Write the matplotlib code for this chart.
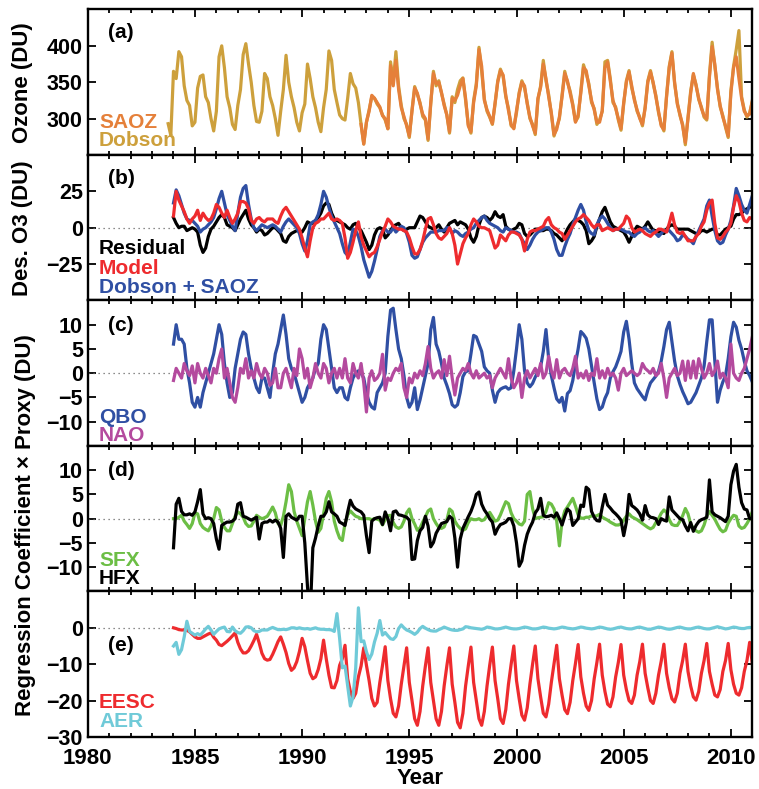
import matplotlib

matplotlib.use("Agg")
import matplotlib.pyplot as plt
import numpy as np
from matplotlib.ticker import MultipleLocator

plt.rcParams["font.family"] = ["Liberation Sans", "DejaVu Sans"]
plt.rcParams["font.weight"] = "bold"
plt.rcParams["axes.labelweight"] = "bold"

# ============================================================================
# Data, 8 samples per year (rows = one year)
# ============================================================================

STEP = 1 / 8

# (a) total ozone, Dobson starts 1983.75, SAOZ starts 1992.75
DOBSON_START = 1983.75
dobson = [
    293, 277,
    365, 355, 392, 385, 345, 325, 318, 290,  # 1984
    295, 342, 358, 360, 330, 322, 300, 283,  # 1985
    310, 385, 400, 370, 330, 315, 292, 285,  # 1986
    318, 340, 388, 403, 375, 350, 318, 296,  # 1987
    295, 310, 362, 355, 330, 318, 300, 277,  # 1988
    310, 340, 387, 350, 330, 315, 295, 283,  # 1989
    308, 320, 375, 355, 330, 315, 295, 282,  # 1990
    315, 340, 393, 380, 340, 322, 305, 300,  # 1991
    298, 328, 362, 348, 342, 322, 292, 265,  # 1992
    295, 312, 330, 328, 320, 315, 305, 298,  # 1993
    286, 378, 350, 392, 345, 318, 300, 292,  # 1994
    274, 312, 344, 333, 322, 303, 298, 270,  # 1995
    320, 365, 345, 352, 335, 320, 305, 280,  # 1996
    330, 322, 340, 352, 356, 325, 292, 280,  # 1997
    325, 348, 398, 365, 327, 310, 302, 292,  # 1998
    320, 352, 368, 358, 330, 314, 290, 287,  # 1999
    308, 336, 352, 342, 322, 300, 292, 278,  # 2000
    326, 345, 380, 352, 333, 306, 276, 288,  # 2001
    300, 333, 365, 350, 338, 320, 296, 302,  # 2002
    338, 374, 362, 348, 322, 314, 292, 298,  # 2003
    310, 378, 380, 355, 322, 316, 298, 284,  # 2004
    320, 352, 366, 342, 327, 310, 302, 290,  # 2005
    316, 352, 366, 348, 332, 308, 292, 283,  # 2006
    332, 372, 392, 348, 322, 304, 292, 264,  # 2007
    302, 338, 360, 347, 326, 316, 302, 298,  # 2008
    360, 405, 372, 342, 316, 304, 288, 274,  # 2009
    338, 372, 395, 421, 330, 312, 302, 308,  # 2010
    323,
]

SAOZ_START = 1992.75
saoz = [
    292, 265,
    295, 310, 332, 328, 322, 316, 304, 300,  # 1993
    286, 373, 345, 380, 340, 315, 303, 290,  # 1994
    276, 310, 342, 335, 320, 306, 300, 272,  # 1995
    322, 362, 348, 350, 336, 318, 305, 282,  # 1996
    328, 325, 332, 345, 355, 328, 290, 282,  # 1997
    322, 345, 395, 372, 325, 312, 303, 293,  # 1998
    322, 350, 366, 360, 332, 311, 292, 286,  # 1999
    311, 334, 350, 345, 320, 302, 290, 280,  # 2000
    328, 343, 375, 355, 330, 308, 278, 285,  # 2001
    302, 330, 362, 352, 335, 318, 295, 305,  # 2002
    335, 370, 366, 345, 325, 312, 295, 295,  # 2003
    311, 370, 378, 352, 325, 314, 300, 286,  # 2004
    322, 350, 364, 345, 325, 312, 300, 292,  # 2005
    314, 350, 364, 350, 330, 310, 290, 285,  # 2006
    330, 370, 390, 350, 320, 306, 290, 267,  # 2007
    300, 335, 362, 345, 328, 314, 304, 300,  # 2008
    357, 399, 375, 340, 318, 302, 290, 276,  # 2009
    335, 370, 385, 355, 328, 310, 304, 306,  # 2010
    325,
]

# (b)-(e) all start 1984.0
SERIES_START = 1984.0

residual = [
    7, 3, 0, 1, 1, -2, -1, 0,  # 1984
    -1, -3, -12, -17, -14, -6, -1, 1,  # 1985
    4, 7, 9, 7, 2, 1, 0, -2,  # 1986
    2, 6, 9, 12, 6, 2, 0, -3,  # 1987
    -1, -2, -5, -4, -2, 0, 0, -2,  # 1988
    -4, -9, -10, -6, -4, -3, -2, -2,  # 1989
    -3, 0, 4, 3, 3, 5, 7, 10,  # 1990
    15, 17, 16, 10, 6, 5, 4, 3,  # 1991
    2, 0, -1, 2, 3, 0, -2, -6,  # 1992
    -10, -15, -12, -5, -1, 0, -1, -7,  # 1993
    -5, -2, 1, 2, 3, 0, -2, -1,  # 1994
    0, 0, 0, 4, 8, 7, 4, 1,  # 1995
    0, -1, 0, 2, -1, -3, 0, 3,  # 1996
    4, 5, 2, 4, 3, 2, -1, -7,  # 1997
    -10, -6, 2, 7, 8, 7, 5, 7,  # 1998
    11, 8, 7, 9, 1, -1, -2, -1,  # 1999
    0, 3, 2, -4, -6, -5, -3, -1,  # 2000
    -1, -2, -2, -1, -1, -2, -4, -5,  # 2001
    -7, -9, -5, -1, 2, 4, 6, 5,  # 2002
    4, 2, -2, -11, -9, -6, 1, 6,  # 2003
    11, 14, 9, 4, 1, 0, -1, -2,  # 2004
    -3, -6, -10, -6, -2, 1, 0, -1,  # 2005
    1, 4, 1, -2, -2, -3, -3, -4,  # 2006
    -1, 1, 2, 1, -1, -1, -1, -1,  # 2007
    -1, -2, -3, -4, -4, -2, -2, -3,  # 2008
    -2, -1, -1, -5, -5, -3, -1, 0,  # 2009
    1, 6, 9, 9, 10, 12, 13, 14,  # 2010
    15,
]

model = [
    8, 25, 19, 15, 11, 6, 3, 6,  # 1984
    8, 12, 5, 10, 7, 5, 6, 10,  # 1985
    16, 14, 10, 7, 12, 7, 3, 6,  # 1986
    10, 18, 18, 17, 13, 5, 3, 6,  # 1987
    7, 5, 4, 6, 6, 6, 4, 3,  # 1988
    8, 12, 14, 11, 8, 5, 2, -1,  # 1989
    -7, -14, -20, -9, 0, 3, 4, 6,  # 1990
    6, 8, 10, 6, 5, 6, 5, 3,  # 1991
    -7, -21, -17, -10, -2, 4, -6, -12,  # 1992
    -16, -20, -18, -17, -13, -8, -3, 1,  # 1993
    6, 4, 1, 0, -1, -1, -2, -3,  # 1994
    -7, -13, -18, -18, -15, -9, -1, 6,  # 1995
    7, 2, -4, -7, -8, -6, -4, 0,  # 1996
    -4, -12, -25, -18, -11, -7, -4, 2,  # 1997
    6, 4, 1, 0, 0, -1, -2, -8,  # 1998
    -14, -12, -5, -7, -9, -5, -3, -3,  # 1999
    -4, -5, -8, -16, -8, -3, -2, -2,  # 2000
    -1, 0, 1, 5, 7, 2, 0, -1,  # 2001
    -3, -4, -8, -5, -2, 1, 4, 6,  # 2002
    7, 9, 7, 5, 2, 0, 2, 2,  # 2003
    -2, -1, 0, -1, -2, -1, -1, 1,  # 2004
    3, 8, 6, 0, -3, -2, -1, -2,  # 2005
    -4, -5, -6, -4, -3, -1, -1, -2,  # 2006
    -3, 3, 10, 2, -3, -4, -3, -6,  # 2007
    -9, -9, -9, -6, -4, 1, 4, 12,  # 2008
    17, 19, 3, -7, -8, -6, -3, -1,  # 2009
    3, 14, 22, 18, 10, 5, 4, 7,  # 2010
    6,
]

dobson_saoz = [
    17, 26, 22, 16, 10, 6, 5, 5,  # 1984
    3, 1, -3, -1, 0, 2, 4, 7,  # 1985
    13, 20, 25, 17, 9, 5, 1, -2,  # 1986
    10, 21, 27, 29, 16, 6, 0, -2,  # 1987
    0, 2, 1, 0, 1, 2, 1, -1,  # 1988
    -3, 1, 4, 6, 4, 2, 0, -4,  # 1989
    -11, -16, -9, 2, 4, 5, 9, 16,  # 1990
    25, 21, 14, 8, 4, 0, -4, -11,  # 1991
    -17, -19, -10, -1, -2, -6, -13, -22,  # 1992
    -28, -34, -30, -23, -15, -6, -2, -1,  # 1993
    -3, -3, 0, -3, -1, 1, 0, -4,  # 1994
    -10, -19, -21, -20, -15, -10, -7, -5,  # 1995
    -3, -3, -3, -2, -2, -2, 0, 0,  # 1996
    -4, -2, -3, -5, -6, -4, -3, -1,  # 1997
    0, 3, 5, 7, 8, 5, 3, 2,  # 1998
    1, 0, -2, -3, 0, -1, -2, -3,  # 1999
    -3, -4, -8, -11, -15, -12, -8, -5,  # 2000
    -3, -2, -1, 0, 0, -3, -8, -15,  # 2001
    -19, -19, -13, -8, -4, 2, 7, 12,  # 2002
    16, 12, 4, -2, -4, -5, 2, 6,  # 2003
    8, 6, 3, 0, -2, -1, -1, -1,  # 2004
    -2, -3, -3, -5, -6, -4, -3, -1,  # 2005
    0, -2, -3, -2, -4, -6, -4, -2,  # 2006
    -2, -2, -4, -6, -9, -8, -5, -6,  # 2007
    -8, -9, -11, -6, -2, 2, 6, 15,  # 2008
    19, 8, -2, -9, -11, -10, -5, -1,  # 2009
    5, 15, 27, 22, 16, 12, 10, 16,  # 2010
    22,
]

qbo = [
    6, 10, 7, 7, 6, 1, -2, -6,  # 1984
    -7, -5, -7, -4, -2, 0, 2, 4,  # 1985
    7, 10, 8, 2, -2, -5, -4, 1,  # 1986
    4, 7, 8.5, 8, 4, 1, -1, -3,  # 1987
    -4, -1, -1, -3, -5, 0, 4, 6,  # 1988
    9, 12, 8, 3, 1, 0, -2, -4,  # 1989
    -6, -5, -3, -2, -1, 1, 2, 7,  # 1990
    10, 9, 5, 1, -3, -4, -3, -3,  # 1991
    -5, -5.5, -3, -1, 0, 0.5, 0, -1,  # 1992
    -4, -6, -7, -7.4, -4, -3, -2, 0,  # 1993
    7.6, 13, 13.4, 9, 5, 3, -0.5, -5,  # 1994
    -7, -6, -3, -7.5, -5.5, -3, -0.5, 2,  # 1995
    9, 11.5, 6, 4.5, 2, -1, -2.5, -4.2,  # 1996
    -6.5, -7, -6.5, -4, -0.7, 0.3, 0.5, 4,  # 1997
    7.8, 7.5, 6, 4.5, 1.3, 0.5, 0, -3.5,  # 1998
    -6, -4, -3.3, -3, -2.8, -3.3, -3, 0.5,  # 1999
    5, 10, 7, 0.5, -2, -2.8, -2.1, -0.8,  # 2000
    0.3, 1.3, 4.5, 9, 3, -0.5, -3, -5.3,  # 2001
    -6, -5, -7.8, -4.2, -3.6, -1.5, 2, 5,  # 2002
    8.6, 8, 7.2, 5, 1.5, -2, -5.3, -7.5,  # 2003
    -7, -5.2, -4, -1, 0.3, 1.3, 2.8, 4.5,  # 2004
    8.5, 10.7, 7, 2, -2, -3.2, -4, -4.8,  # 2005
    -5.5, -3.5, -2, -1.3, -0.6, 0.4, 2.5, 5.5,  # 2006
    9, 10.5, 6.5, 2.5, -0.5, -2.3, -3.8, -5,  # 2007
    -6.3, -6, -5, -4, -2.5, -1, 1.5, 6.5,  # 2008
    11, 11, 2.5, -6, -3.5, -1.8, -0.5, 3,  # 2009
    7.5, 10.5, 9.5, 6.8, 5, 2.5, 0.5, -0.5,  # 2010
    -1.8,
]

nao = [
    -1.5, 1, 0, -1, 2, 0.5, -0.5, 1.5,  # 1984
    -2, 2, 0, -1, 1, -0.5, -2, 1,  # 1985
    0, 3, 5, -1, 1, -2, -5, -6,  # 1986
    -3, 1, 0, 3, -1, 0.5, -1, 2,  # 1987
    0, -1, 1, 0, -2.5, -2, 1, -3,  # 1988
    -3, 0, 1, -1, -3, 1, -0.5, 5,  # 1989
    3, -1, 1, -3, -1, 2, 0, -1,  # 1990
    2, 1, -2, 0, 1, -1, 1, -1,  # 1991
    3, -1, -2, 2, 0, -1, 2, -2,  # 1992
    -8, -1, 0.5, -1.5, -1, 0, 3.9, -3.5,  # 1993
    -1, -1.5, 0, 1, 0.5, 2, -3, -5,  # 1994
    -1, -2, 0, -1, 0.5, -0.5, 2, 5.5,  # 1995
    1, -1, 0, 0.5, -1, 2.8, -0.5, 3.5,  # 1996
    -1, -4.5, -1, 0, 1, 0.5, 2, 0,  # 1997
    -1, 0.5, -1, -0.5, 0, -1, -0.5, -3,  # 1998
    -1, 0, 1, 0, -1, 3, -1, -3,  # 1999
    -2, 0, -5, -1, 0.5, -1, 0, 1,  # 2000
    -0.5, 2, -1, 0, 3.5, 0.5, -1, 2.8,  # 2001
    -1, 0.5, 1, 0, -0.5, 1, 3.5, -1,  # 2002
    0, -1, 0.5, -1.5, 0, -0.5, 3, -1,  # 2003
    0.5, -1, 1, -0.5, 0, -1, -3.5, 0,  # 2004
    1, -0.5, 0, 0.5, 0, -0.5, 0, 2,  # 2005
    1, 0.5, 0, 1, -0.5, 0, 2, -1,  # 2006
    -5, -1, 0, 1, -0.5, 0, 2.5, -1.5,  # 2007
    2.5, -1, 2.5, -1, 3, 1, -1, 0,  # 2008
    2, -0.5, 0.5, 2.5, -1, 0, -1, -3,  # 2009
    6, 0, -1, -1.5, 0, 1, 3, 5,  # 2010
    7.5,
]

sfx = [
    0, 0, 0.3, 0.7, -0.5, -1.2, -2, -1,  # 1984
    1.2, 1, -1, -1.8, -2.2, -2.5, -1.5, 0,  # 1985
    2.3, 1.8, -0.5, -1.8, -2.5, -2.5, -1, 0.5,  # 1986
    1.4, 1, 0.3, -1, -1.6, -1.5, -0.5, 0.7,  # 1987
    0.3, 0, 0.2, 0.5, 1.4, 2.4, 1.2, -1,  # 1988
    -1.4, 0.5, 3.5, 7, 5.6, 1.5, -0.5, -2,  # 1989
    -3.5, 0, 3.5, 5.6, 2.8, -0.5, -2.8, -2,  # 1990
    1, 4.2, 5.6, 3.5, -0.5, -2.5, -4, -4.5,  # 1991
    -1, 0.8, 1.6, 1, 0.5, 0.3, 0, 0,  # 1992
    0, 0, -0.2, 0, -0.1, -0.3, -1.3, -0.2,  # 1993
    0.6, 0.7, -0.8, -1.7, -2, -1.7, -0.5, 1.2,  # 1994
    2, 0, -1.1, -2.4, -1.9, -0.7, 0.4, 1.6,  # 1995
    2, 0, -1, -1.8, -2, -1.7, -0.3, 2,  # 1996
    1.5, -0.5, -1.4, -2, -2.4, -2.1, -0.8, 0,  # 1997
    -0.2, -0.2, 0, -0.4, -0.2, 0.6, 1.3, 0.4,  # 1998
    -0.5, -0.3, 0.8, 2.2, 3.5, 3.1, 1.2, 0,  # 1999
    -0.5, -1.1, -1.3, -0.5, 5, 5.6, 2.1, 0,  # 2000
    0.2, 0.3, 0.4, 1.5, 3.3, 3, 2, -0.5,  # 2001
    -5.6, -0.5, 1.6, 2.4, 3.3, 4.2, 2.6, 0.8,  # 2002
    0.1, 0.1, 0.3, 0.3, 0.6, 0.5, 0.6, 0.9,  # 2003
    0.3, 0, -0.3, -0.7, -1, -1.3, -1.3, -1.1,  # 2004
    -0.3, 0.5, 1, 0.4, 0.1, -0.2, -0.6, -1,  # 2005
    -1.4, -1.8, -2.1, -1.8, -0.8, 0, 1.1, 1.8,  # 2006
    1.3, -0.2, -1.2, -1.4, -1.4, -0.5, 0.6, 2.1,  # 2007
    1, -1.1, -2, -2.5, -2.8, -2.5, -1.3, 0.5,  # 2008
    1.5, 0.7, -0.1, -1.2, -2.2, -2.7, -2.4, -0.9,  # 2009
    0, 0.7, 0.5, -1.5, -2, -1.8, -1, 0,  # 2010
    1.4,
]

hfx = [
    -6, 3, 4.2, 1.5, 0.8, 0.8, 1, 0.7,  # 1984
    1.4, 3.5, 6, 1, 0, 0.2, 0, -1,  # 1985
    -4.2, -6.3, -1.4, -1, -0.7, -0.7, -0.5, 0,  # 1986
    3, 3.3, 0.5, 0.3, 0, -0.3, 0, 0.3,  # 1987
    -4.2, -1, -0.7, -0.7, -0.3, -0.7, -0.3, -0.7,  # 1988
    -2, -8, 0.5, 1, 0.3, 0, -0.3, 0.5,  # 1989
    0.5, -5, -14, -20, -6, -4, -1.5, 0.5,  # 1990
    0.5, 1.4, 3.5, 1.4, 1, 0.5, -0.7, -1,  # 1991
    -1.4, 1.4, 3.8, 2.6, 2, 1.7, 1.4, 0.7,  # 1992
    -3.5, -7, -0.5, 0, 0.2, 0.3, -1.2, 1.4,  # 1993
    0, -2.5, 1.4, 1.6, 0.8, 0.7, 0.5, 0.3,  # 1994
    -0.3, -8.4, -8.3, -4.5, -2.5, -1.8, 0.5, -1.5,  # 1995
    -5.8, -4.9, -3, -2, -1, -0.8, -0.6, 0.5,  # 1996
    0, -4, -10, -4.2, -2, -0.8, 0.4, 1.5,  # 1997
    3, 5, 5.5, 3, 1.8, 1, 0, -0.7,  # 1998
    -3.2, -2, -1.2, -1, -0.7, 0, 0, -1.5,  # 1999
    -5, -9.8, -8.7, -5.5, -3.2, -1.8, -0.7, 1.2,  # 2000
    2, 4.2, 0.7, 0.4, 0.5, 0.7, 0.3, 1.2,  # 2001
    0, -1.3, 0.5, 2, 1.5, -1.4, -0.7, 0,  # 2002
    2.8, 2.5, 6.5, 6, 1.5, 0.3, -0.4, -0.5,  # 2003
    2.4, 5, 2.8, 2.2, 1.5, 1, 0.4, -0.3,  # 2004
    -3.5, -0.7, 5, 2.7, 2.3, 1.8, 1, -0.3,  # 2005
    2.7, 0.8, 0.3, 0.2, 0, -1.2, 0, -0.3,  # 2006
    -0.5, 4.5, 1.8, 1.2, 0.6, 0, -0.2, -1.5,  # 2007
    -2.5, -0.8, -2.6, -1.4, -0.6, -0.2, 0, 0.3,  # 2008
    8, 1.4, 0.8, 0.5, 0.2, -0.2, -0.6, 0.5,  # 2009
    7, 9.8, 11.2, 6.5, 3.3, 2, 1.8, 0,  # 2010
    0,
]

eesc = [
    0, -0.2, -0.5, -0.6, -0.6, -0.7, -1.1, -1.8,  # 1984
    -2.5, -2.9, -2.9, -2.5, -2.1, -1.7, -1.4, -2.6,  # 1985
    -3.4, -4.6, -4.9, -4.3, -3.7, -3, -2.2, -1.4,  # 1986
    -4, -5.8, -6.9, -6.9, -6.3, -5, -3.5, -1.8,  # 1987
    -4.2, -7, -8.5, -8.9, -8.7, -7.3, -5.6, -3.8,  # 1988
    -2.5, -4.5, -6.8, -9.8, -11.7, -11, -9.3, -6.5,  # 1989
    -2.9, -5.2, -9, -12.5, -14, -13.5, -11.5, -8.5,  # 1990
    -3.4, -8.5, -13, -16.4, -16.5, -14.5, -10.3, -8.5,  # 1991
    -4.8, -14, -17.5, -19.4, -18, -13.5, -10.5, -5.5,  # 1992
    -10.3, -14.5, -19.4, -21.5, -20.5, -15, -10.3, -5.2,  # 1993
    -14.5, -19.5, -23.5, -24.5, -21.5, -15.5, -10.5, -5.5,  # 1994
    -15, -20, -25, -26.8, -23, -16, -10.5, -5.5,  # 1995
    -15, -20, -25, -26.8, -23, -16, -10.5, -5.5,  # 1996
    -15.5, -20.5, -26, -27.5, -23.5, -16, -10.5, -5.3,  # 1997
    -15, -20, -25, -26.8, -23, -16, -10.3, -5.3,  # 1998
    -14.5, -19.5, -25, -26.3, -22.5, -15.5, -10, -5,  # 1999
    -14.5, -19.5, -24, -25.4, -22, -15.5, -10, -5,  # 2000
    -14, -19, -23.5, -24.5, -21, -15, -10, -4.8,  # 2001
    -14, -18.5, -22.5, -23.6, -20.5, -14.5, -9.8, -4.6,  # 2002
    -13.5, -18, -21.5, -22.7, -20, -14, -9.5, -4.5,  # 2003
    -13, -17.5, -21, -21.7, -19, -13.5, -9.5, -4.6,  # 2004
    -13, -17, -20, -20.8, -18.5, -13, -9.3, -4.5,  # 2005
    -12.5, -16.5, -20, -20.8, -18, -13, -9.2, -4.5,  # 2006
    -12.5, -16.5, -19.5, -20.4, -18, -12.5, -9, -4.5,  # 2007
    -12, -16, -19, -19.9, -17.5, -12.5, -9, -4.3,  # 2008
    -12, -15.5, -18.5, -19, -17, -12, -9, -4.3,  # 2009
    -11.5, -15.5, -18, -18.5, -16.5, -12, -9, -4,  # 2010
    -9.8,
]

aer = [
    -5, -4, -7.3, -6, -2.5, 1.8, -1, -1.5,  # 1984
    -2, -1.6, -2, -1.2, -0.3, 0.4, -0.6, -1.8,  # 1985
    -1, -0.3, 0, 0.2, -1, -1.1, 0.2, -0.8,  # 1986
    -1.3, -1.5, -0.8, 0.2, 0.3, 0, -0.8, -1.1,  # 1987
    -1, -0.6, -0.6, -0.6, -0.2, 0.1, -0.2, -0.5,  # 1988
    -0.5, -0.4, -0.5, -0.3, 0, 0, -0.2, 0,  # 1989
    -0.2, -0.3, -0.2, -0.4, -0.2, 0, -0.3, -0.4,  # 1990
    -0.4, -0.5, -0.5, -0.6, -1, 3.9, -3, -11,  # 1991
    -10.5, -16, -21.5, -19, -11, 5.5, -3.8, -3.6,  # 1992
    -6.6, -8.7, -7.2, -3.9, -1.5, 2, -2, -1.3,  # 1993
    -2.2, -3, -3.2, -2.4, -0.2, 0.8, 0, -0.6,  # 1994
    -0.9, -1.3, -1.8, -1.2, -0.2, 0.4, -0.1, -0.5,  # 1995
    -0.8, -0.9, -0.9, -0.5, -0.2, 0.2, -0.1, -0.4,  # 1996
    -0.6, -0.7, -0.7, -0.5, -0.3, 0.3, 0.2, 0,  # 1997
    -0.1, -0.2, -0.3, -0.4, -0.2, 0.2, 0.1, -0.1,  # 1998
    -0.3, -0.3, -0.2, 0, 0.2, 0, -0.2, -0.3,  # 1999
    -0.3, -0.2, 0, 0.2, 0.1, -0.1, -0.3, -0.3,  # 2000
    -0.2, 0, 0.2, 0.1, -0.1, -0.2, -0.3, -0.2,  # 2001
    0, 0.2, 0.1, -0.1, -0.2, -0.3, -0.2, 0,  # 2002
    0.2, 0.1, -0.1, -0.2, -0.3, -0.2, 0, 0.2,  # 2003
    0.1, -0.1, -0.3, -0.4, -0.3, -0.1, 0.1, 0.2,  # 2004
    0, -0.2, -0.3, -0.3, -0.1, 0.1, 0.2, 0,  # 2005
    -0.2, -0.4, -0.4, -0.2, 0, 0.2, 0.1, -0.1,  # 2006
    -0.3, -0.4, -0.3, -0.1, 0.1, 0.2, 0, -0.2,  # 2007
    -0.3, -0.3, -0.1, 0.1, 0.2, 0, -0.2, -0.3,  # 2008
    -0.3, -0.1, 0.1, 0.3, 0.1, -0.1, -0.3, -0.2,  # 2009
    0, 0.2, 0.1, -0.1, -0.2, -0.2, 0, 0.1,  # 2010
    0,
]

# ============================================================================
# Style
# ============================================================================

DOBSON_C = "#CDA03C"
SAOZ_C = "#E5803A"
RED = "#EE2B2E"
BLUE = "#2F4FA3"
MAGENTA = "#B44A9E"
GREEN = "#6CBE45"
CYAN = "#6FCAD8"
BLACK = "#000000"
LW = 2.3


def times(start, values):
    return start + np.arange(len(values)) * STEP


def legend_text(ax, y, text, color):
    ax.text(0.017, y, text, color=color, transform=ax.transAxes,
            fontsize=15, fontweight="bold", va="center", ha="left")


def panel_tag(ax, y, text):
    ax.text(0.031, y, text, transform=ax.transAxes, fontsize=15,
            fontweight="bold", va="center", ha="left")


fig, axes = plt.subplots(5, 1, figsize=(7.59, 7.89), dpi=100, sharex=True)
fig.subplots_adjust(left=0.1156, right=0.9912, top=0.988, bottom=0.066,
                    hspace=0)

for ax in axes:
    ax.set_xlim(1980, 2011)
    ax.xaxis.set_major_locator(MultipleLocator(5))
    ax.xaxis.set_minor_locator(MultipleLocator(1))
    ax.tick_params(which="both", direction="in", top=True, right=True,
                   width=1.3, labelsize=15.5)
    ax.tick_params(which="major", length=6)
    ax.tick_params(which="minor", length=3)
    for s in ax.spines.values():
        s.set_linewidth(1.7)

# (a)
ax = axes[0]
ax.plot(times(DOBSON_START, dobson), dobson, color=DOBSON_C, lw=LW)
ax.plot(times(SAOZ_START, saoz), saoz, color=SAOZ_C, lw=LW)
ax.set_ylim(250, 450)
ax.set_yticks([300, 350, 400])
ax.set_ylabel("Ozone (DU)", fontsize=16)
legend_text(ax, 0.22, "SAOZ", SAOZ_C)
legend_text(ax, 0.10, "Dobson", DOBSON_C)
panel_tag(ax, 0.84, "(a)")

# (b)
ax = axes[1]
tb = times(SERIES_START, residual)
ax.axhline(0, color="0.4", ls=(0, (1, 3)), lw=0.9)
ax.plot(tb, residual, color=BLACK, lw=LW)
ax.plot(tb, dobson_saoz, color=BLUE, lw=LW)
ax.plot(tb, model, color=RED, lw=LW)
ax.set_ylim(-50, 50)
ax.set_yticks([-25, 0, 25])
ax.set_ylabel("Des. O3 (DU)", fontsize=16)
legend_text(ax, 0.36, "Residual", BLACK)
legend_text(ax, 0.223, "Model", RED)
legend_text(ax, 0.087, "Dobson + SAOZ", BLUE)
panel_tag(ax, 0.84, "(b)")

# (c)
ax = axes[2]
tc = times(SERIES_START, qbo)
ax.axhline(0, color="0.4", ls=(0, (1, 3)), lw=0.9)
ax.plot(tc, qbo, color=BLUE, lw=LW)
ax.plot(tc, nao, color=MAGENTA, lw=LW)
ax.set_ylim(-15, 15)
ax.set_yticks([-10, -5, 0, 5, 10])
legend_text(ax, 0.196, "QBO", BLUE)
legend_text(ax, 0.07, "NAO", MAGENTA)
panel_tag(ax, 0.83, "(c)")

# (d)
ax = axes[3]
td = times(SERIES_START, sfx)
ax.axhline(0, color="0.4", ls=(0, (1, 3)), lw=0.9)
ax.plot(td, sfx, color=GREEN, lw=LW)
ax.plot(td, hfx, color=BLACK, lw=LW)
ax.set_ylim(-15, 15)
ax.set_yticks([-10, -5, 0, 5, 10])
legend_text(ax, 0.21, "SFX", GREEN)
legend_text(ax, 0.087, "HFX", BLACK)
panel_tag(ax, 0.83, "(d)")

# (e)
ax = axes[4]
te = times(SERIES_START, eesc)
ax.axhline(0, color="0.4", ls=(0, (1, 3)), lw=0.9)
ax.plot(te, eesc, color=RED, lw=LW)
ax.plot(te, aer, color=CYAN, lw=LW)
ax.set_ylim(-30, 10)
ax.set_yticks([-30, -20, -10, 0])
legend_text(ax, 0.24, "EESC", RED)
legend_text(ax, 0.104, "AER", CYAN)
panel_tag(ax, 0.63, "(e)")
ax.tick_params(axis="x", labelsize=16, pad=8)
ax.set_xlabel("Year", fontsize=16, labelpad=-1)

for ax in axes[:2]:
    ax.yaxis.set_label_coords(-0.082, 0.5)

fig.text(0.033, 0.335, "Regression Coefficient \u00d7 Proxy (DU)",
         rotation=90, fontsize=16, fontweight="bold", va="center",
         ha="center")

fig.savefig("out.png", dpi=100)
